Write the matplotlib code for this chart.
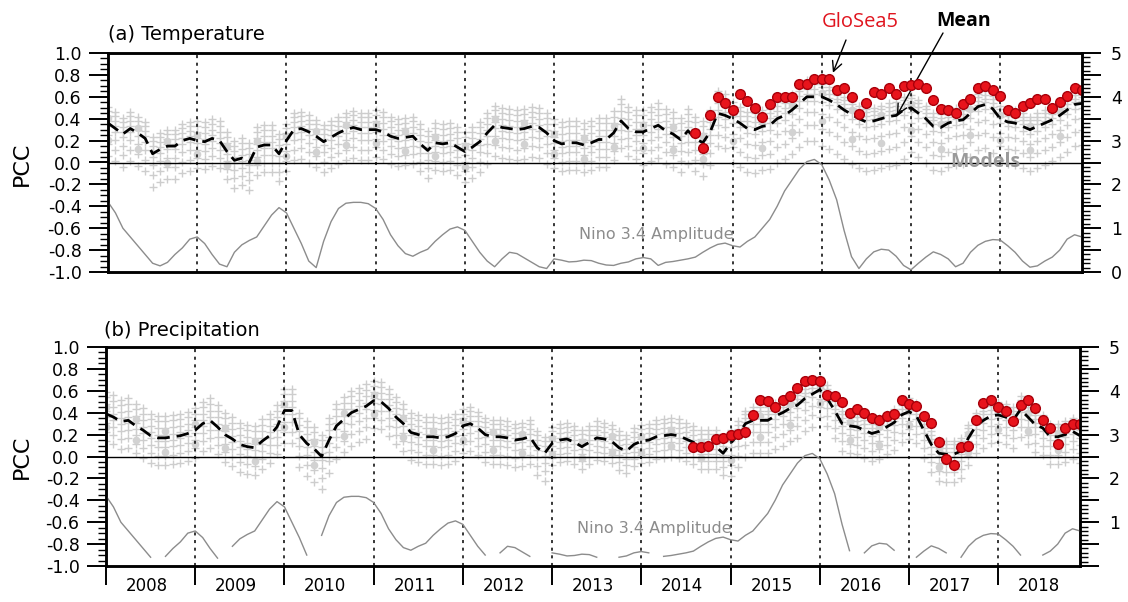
import numpy as np
import matplotlib.pyplot as plt
from matplotlib.ticker import MultipleLocator, FixedLocator, FuncFormatter, NullFormatter

plt.rcParams['font.family'] = ['DejaVu Sans']

# ---------------- data (monthly, Jan 2008 .. Dec 2018) ----------------
years = [str(y) for y in range(2008, 2019)]
months = np.arange(132)
glo_start = 79  # first GloSea5 month (Aug 2014)

# ensemble mean PCC, temperature (one row per year)
mean_temp = [
    0.36, 0.31, 0.26, 0.31, 0.27, 0.22, 0.08, 0.12, 0.15, 0.15, 0.20, 0.22,
    0.20, 0.19, 0.22, 0.20, 0.10, 0.02, 0.04, 0.00, 0.14, 0.16, 0.16, 0.08,
    0.20, 0.30, 0.31, 0.28, 0.24, 0.19, 0.23, 0.27, 0.30, 0.32, 0.30, 0.30,
    0.30, 0.28, 0.24, 0.22, 0.23, 0.24, 0.17, 0.11, 0.18, 0.17, 0.18, 0.14,
    0.10, 0.14, 0.19, 0.27, 0.34, 0.32, 0.31, 0.30, 0.31, 0.33, 0.32, 0.27,
    0.20, 0.17, 0.18, 0.18, 0.16, 0.18, 0.21, 0.21, 0.27, 0.38, 0.31, 0.28,
    0.28, 0.31, 0.34, 0.29, 0.26, 0.21, 0.29, 0.22, 0.18, 0.28, 0.45, 0.43,
    0.40, 0.36, 0.31, 0.30, 0.33, 0.34, 0.40, 0.43, 0.48, 0.54, 0.60, 0.60,
    0.60, 0.57, 0.53, 0.48, 0.44, 0.40, 0.37, 0.38, 0.40, 0.42, 0.43, 0.48,
    0.50, 0.45, 0.40, 0.33, 0.32, 0.36, 0.38, 0.39, 0.45, 0.51, 0.53, 0.49,
    0.40, 0.37, 0.36, 0.33, 0.30, 0.33, 0.36, 0.39, 0.43, 0.48, 0.53, 0.54,
]

# ensemble mean PCC, precipitation
mean_prec = [
    0.39, 0.36, 0.32, 0.33, 0.28, 0.24, 0.19, 0.17, 0.17, 0.18, 0.19, 0.21,
    0.24, 0.30, 0.33, 0.27, 0.20, 0.16, 0.11, 0.09, 0.08, 0.14, 0.19, 0.27,
    0.42, 0.42, 0.20, 0.12, 0.07, 0.00, 0.15, 0.28, 0.34, 0.40, 0.43, 0.46,
    0.51, 0.50, 0.44, 0.36, 0.30, 0.22, 0.20, 0.18, 0.18, 0.17, 0.18, 0.21,
    0.28, 0.30, 0.26, 0.20, 0.18, 0.18, 0.17, 0.15, 0.16, 0.18, 0.08, 0.03,
    0.12, 0.15, 0.16, 0.13, 0.09, 0.13, 0.17, 0.16, 0.14, 0.08, 0.05, 0.11,
    0.14, 0.15, 0.18, 0.19, 0.20, 0.19, 0.16, 0.13, 0.09, 0.09, 0.09, 0.03,
    0.12, 0.20, 0.30, 0.33, 0.33, 0.33, 0.37, 0.40, 0.44, 0.47, 0.53, 0.57,
    0.61, 0.53, 0.42, 0.30, 0.28, 0.27, 0.24, 0.21, 0.23, 0.27, 0.31, 0.38,
    0.41, 0.37, 0.24, 0.11, 0.03, 0.02, 0.02, 0.05, 0.17, 0.28, 0.33, 0.37,
    0.38, 0.36, 0.33, 0.43, 0.36, 0.29, 0.26, 0.18, 0.18, 0.20, 0.23, 0.19,
]

# GloSea5 PCC, Aug 2014 .. Dec 2018
glo_temp = [
    0.27, 0.13, 0.43, 0.60, 0.54,
    0.48, 0.63, 0.56, 0.50, 0.42, 0.53, 0.60, 0.60, 0.60, 0.72, 0.72, 0.76,
    0.76, 0.76, 0.66, 0.68, 0.60, 0.44, 0.54, 0.64, 0.63, 0.68, 0.63, 0.70,
    0.71, 0.72, 0.68, 0.57, 0.49, 0.48, 0.45, 0.53, 0.58, 0.68, 0.70, 0.66,
    0.61, 0.48, 0.45, 0.52, 0.54, 0.58, 0.58, 0.50, 0.55, 0.61, 0.68, 0.66,
]
glo_prec = [
    0.085, 0.085, 0.10, 0.16, 0.17,
    0.20, 0.21, 0.22, 0.38, 0.52, 0.51, 0.45, 0.52, 0.55, 0.63, 0.69, 0.70,
    0.69, 0.56, 0.55, 0.50, 0.40, 0.43, 0.40, 0.35, 0.33, 0.37, 0.39, 0.52,
    0.48, 0.46, 0.37, 0.31, 0.13, -0.02, -0.08, 0.085, 0.10, 0.33, 0.49, 0.52,
    0.45, 0.42, 0.32, 0.47, 0.52, 0.44, 0.33, 0.26, 0.11, 0.26, 0.30, 0.30,
]

# Nino 3.4 amplitude (right axis)
nino = [
    1.60, 1.35, 1.00, 0.80, 0.60, 0.40, 0.20, 0.14, 0.22, 0.40, 0.55, 0.75,
    0.80, 0.65, 0.40, 0.18, 0.12, 0.45, 0.62, 0.72, 0.80, 1.05, 1.30, 1.47,
    1.35, 1.00, 0.65, 0.25, 0.10, 0.70, 1.15, 1.45, 1.57, 1.59, 1.59, 1.56,
    1.45, 1.20, 0.85, 0.60, 0.42, 0.36, 0.45, 0.52, 0.70, 0.85, 0.98, 1.03,
    0.95, 0.70, 0.45, 0.25, 0.12, 0.30, 0.45, 0.42, 0.32, 0.22, 0.12, 0.08,
    0.30, 0.27, 0.23, 0.24, 0.27, 0.26, 0.20, 0.16, 0.15, 0.20, 0.23, 0.30,
    0.33, 0.30, 0.15, 0.22, 0.24, 0.27, 0.30, 0.34, 0.45, 0.55, 0.63, 0.66,
    0.60, 0.57, 0.70, 0.80, 1.00, 1.20, 1.50, 1.85, 2.10, 2.35, 2.52, 2.57,
    2.45, 2.10, 1.65, 0.95, 0.35, 0.08, 0.30, 0.46, 0.52, 0.50, 0.36, 0.15,
    0.05, 0.20, 0.34, 0.46, 0.40, 0.30, 0.12, 0.20, 0.45, 0.61, 0.70, 0.74,
    0.73, 0.60, 0.45, 0.25, 0.11, 0.14, 0.25, 0.34, 0.50, 0.75, 0.85, 0.80,
]

# spread of the individual models around the mean, per year (above / below)
spread_up_temp = [0.15, 0.18, 0.15, 0.18, 0.18, 0.20, 0.20, 0.15, 0.12, 0.12, 0.12]
spread_dn_temp = [0.30, 0.25, 0.28, 0.25, 0.28, 0.25, 0.30, 0.40, 0.45, 0.40, 0.38]
spread_up_prec = [0.20, 0.20, 0.20, 0.18, 0.15, 0.15, 0.15, 0.12, 0.12, 0.12, 0.12]
spread_dn_prec = [0.25, 0.25, 0.30, 0.25, 0.25, 0.20, 0.20, 0.30, 0.25, 0.25, 0.25]
# relative position of each model inside the spread (-1 bottom .. 1 top)
model_pos = [-1.0, -0.65, -0.35, -0.1, 0.15, 0.45, 0.75, 1.0]
circle_pos = [0.3, -0.5]


fig = plt.figure(figsize=(11.28, 6.02), dpi=100)
ax_a = fig.add_axes([108 / 1128, 1 - 272 / 602, 974 / 1128, 219 / 602])
ax_b = fig.add_axes([106 / 1128, 1 - 566 / 602, 974 / 1128, 219 / 602])


def draw_panel(ax, mean, glo, up, dn, nino_vals, bottom_labels):
    mean = np.array(mean)
    up = np.repeat(up, 12)
    dn = np.repeat(dn, 12)

    # individual models
    for p in model_pos:
        off = np.where(p >= 0, p * up, p * dn)
        ax.plot(months, mean + off, '+', color='#cdcdcd', ms=5.5, mew=1, zorder=1)
    for p in circle_pos:
        off = np.where(p >= 0, p * up, p * dn)
        ax.plot(months[::4], (mean + off)[::4], 'o', color='#d2d2d2', ms=4.5, zorder=1)

    for m in range(12, 121, 12):
        ax.axvline(m, color='k', ls=(0, (2, 3)), lw=1.1, zorder=2)
    ax.axhline(0, color='k', lw=1, zorder=2)

    ax.plot(months, mean, color='k', ls=(0, (4.5, 2.5)), lw=2, zorder=3)
    ax.plot(months[glo_start:], glo, 'o', color='#e8141c', mec='#a8000a', ms=7, zorder=4)

    ax.set_xlim(0, 131)
    ax.set_ylim(-1, 1)
    ax.yaxis.set_major_locator(MultipleLocator(0.2))
    ax.yaxis.set_minor_locator(MultipleLocator(0.05))
    ax.yaxis.set_major_formatter(FuncFormatter(lambda v, p: f'{v:.1f}'))
    ax.tick_params(axis='y', which='major', direction='out', length=14, width=1.4,
                   labelsize=12.5, pad=5)
    ax.tick_params(axis='y', which='minor', direction='out', length=6, width=1)

    if bottom_labels:
        ax.xaxis.set_major_locator(FixedLocator(range(0, 121, 12)))
        ax.xaxis.set_minor_locator(FixedLocator([12 * i + 5.5 for i in range(11)]))
        ax.xaxis.set_major_formatter(NullFormatter())
        ax.xaxis.set_minor_formatter(FuncFormatter(lambda v, p: years[int(v // 12)]))
        ax.tick_params(axis='x', which='major', direction='out', length=14, width=1.4)
        ax.tick_params(axis='x', which='minor', length=0, pad=8, labelsize=12)
    else:
        ax.set_xticks([])

    for s in ax.spines.values():
        s.set_linewidth(1.8)

    ax2 = ax.twinx()
    ax2.plot(months, nino_vals, color='#8c8c8c', lw=1)
    ax2.set_ylim(0, 5)
    ax2.yaxis.set_major_locator(MultipleLocator(0.5))
    ax2.yaxis.set_minor_locator(MultipleLocator(0.1))
    ax2.tick_params(axis='y', which='major', direction='out', length=14, width=1.4,
                    labelsize=12.5, pad=7)
    ax2.tick_params(axis='y', which='minor', direction='out', length=6, width=1)
    for s in ax2.spines.values():
        s.set_linewidth(1.8)

    ax.text(0.4836, 0.169, 'Nino 3.4 Amplitude', transform=ax.transAxes,
            color='#8c8c8c', fontsize=11.5, ha='left', va='center', zorder=5)
    return ax2


nino_arr = np.array(nino)
ax2_a = draw_panel(ax_a, mean_temp, glo_temp, spread_up_temp, spread_dn_temp, nino_arr, False)
ax2_a.yaxis.set_major_formatter(FuncFormatter(lambda v, p: f'{v:.0f}' if v % 1 == 0 else ''))

# in panel (b) the smallest amplitudes are not drawn
nino_b = np.where(nino_arr < 0.18, np.nan, nino_arr)
ax2_b = draw_panel(ax_b, mean_prec, glo_prec, spread_up_prec, spread_dn_prec, nino_b, True)
ax2_b.yaxis.set_major_formatter(
    FuncFormatter(lambda v, p: f'{v:.0f}' if (v % 1 == 0 and v > 0) else ''))

fig.text(108 / 1128, 1 - 35 / 602, '(a) Temperature', fontsize=14, ha='left', va='center')
fig.text(104 / 1128, 1 - 330 / 602, '(b) Precipitation', fontsize=14, ha='left', va='center')
fig.text(22 / 1128, 1 - 164 / 602, 'PCC', fontsize=16, rotation=90, ha='center', va='center')
fig.text(22 / 1128, 1 - 457 / 602, 'PCC', fontsize=16, rotation=90, ha='center', va='center')

ax_a.text(0.901, 0.502, 'Models', transform=ax_a.transAxes, color='#9a9a9a',
          fontsize=14, fontweight='bold', family='Open Sans', ha='center', va='center', zorder=5)

fig.text(860 / 1128, 1 - 22 / 602, 'GloSea5', color='#e0141e', fontsize=14.5,
         family='Open Sans', ha='center', va='center')
fig.text(964 / 1128, 1 - 21 / 602, 'Mean', color='k', fontsize=14, fontweight='bold',
         family='Open Sans', ha='center', va='center')
arrow = dict(arrowstyle='->,head_length=0.7,head_width=0.35', color='k', lw=1,
             shrinkA=0, shrinkB=0)
ax_a.annotate('', xy=(97.5, 0.82), xycoords='data', xytext=(846 / 1128, 1 - 40 / 602),
              textcoords='figure fraction', arrowprops=arrow, annotation_clip=False)
ax_a.annotate('', xy=(106.1, 0.43), xycoords='data', xytext=(943 / 1128, 1 - 33 / 602),
              textcoords='figure fraction', arrowprops=arrow, annotation_clip=False)

fig.savefig('out.png', dpi=100)
